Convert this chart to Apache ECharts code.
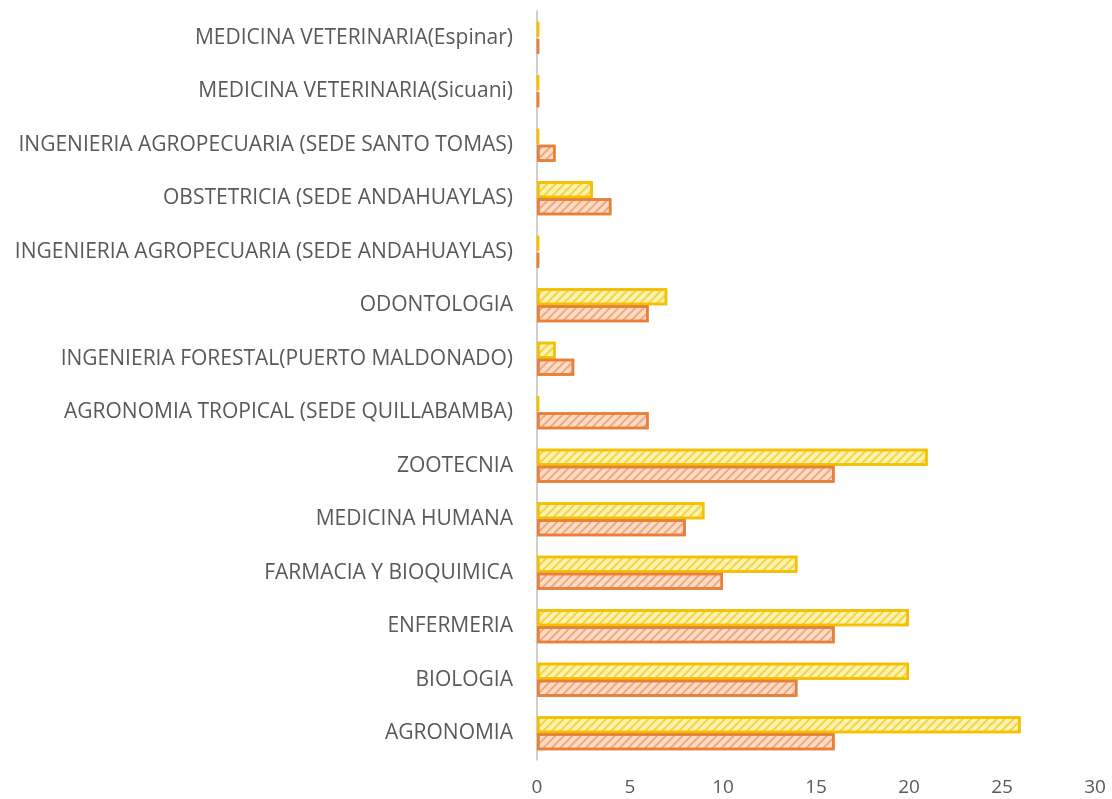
<!DOCTYPE html>
<html>
<head>
<meta charset="utf-8">
<script src="https://cdn.jsdelivr.net/npm/echarts@6/dist/echarts.min.js"></script>
<style>
    html, body { margin: 0; padding: 0; background: #fff; }
    #chart { width: 1112px; height: 799px; }
</style>
</head>
<body>
<div id="chart"></div>
<script>
// categories, bottom to top
var categories = [
    'AGRONOMIA',
    'BIOLOGIA',
    'ENFERMERIA',
    'FARMACIA Y BIOQUIMICA',
    'MEDICINA HUMANA',
    'ZOOTECNIA',
    'AGRONOMIA TROPICAL (SEDE QUILLABAMBA)',
    'INGENIERIA FORESTAL(PUERTO MALDONADO)',
    'ODONTOLOGIA',
    'INGENIERIA AGROPECUARIA (SEDE ANDAHUAYLAS)',
    'OBSTETRICIA (SEDE ANDAHUAYLAS)',
    'INGENIERIA AGROPECUARIA (SEDE SANTO TOMAS)',
    'MEDICINA VETERINARIA(Sicuani)',
    'MEDICINA VETERINARIA(Espinar)'
];
var yellowValues = [26, 20, 20, 14, 9, 21, 0, 1, 7, 0, 3, 0, 0, 0];
var orangeValues = [16, 14, 16, 10, 8, 16, 6, 2, 6, 0, 4, 1, 0, 0];
var xTicks = [0, 5, 10, 15, 20, 25, 30];

var hatch = function (color) {
    return {
        symbol: 'rect',
        symbolSize: 1,
        dashArrayX: [1, 0],
        dashArrayY: [2, 4],
        rotation: -Math.PI / 4,
        color: color
    };
};

var chart = echarts.init(document.getElementById('chart'));
var option = {
    animation: false,
    grid: {
        left: 537,
        right: 17,
        top: 11,
        bottom: 39
    },
    xAxis: {
        type: 'value',
        min: xTicks[0],
        max: xTicks[xTicks.length - 1],
        interval: 5,
        axisLine: { show: false },
        axisTick: { show: false },
        splitLine: { show: false },
        axisLabel: {
            color: '#595959',
            fontSize: 19,
            fontFamily: 'Open Sans',
            margin: 18
        }
    },
    yAxis: {
        type: 'category',
        data: categories,
        axisLine: { show: true, lineStyle: { color: '#bfbfbf', width: 1.5 } },
        axisTick: { show: false },
        axisLabel: {
            color: '#595959',
            fontSize: 21,
            fontFamily: 'Open Sans',
            margin: 24
        }
    },
    series: [{
        name: 'yellow',
        type: 'bar',
        data: yellowValues,
        barGap: '0%',
        barCategoryGap: '36%',
        barMinHeight: 2,
        itemStyle: {
            color: '#fdf3b0',
            borderColor: '#f5c000',
            borderWidth: 2.5,
            decal: hatch('rgba(240,190,0,0.6)')
        }
    }, {
        name: 'orange',
        type: 'bar',
        data: orangeValues,
        barMinHeight: 2,
        itemStyle: {
            color: '#fcdcc8',
            borderColor: '#e8803a',
            borderWidth: 2.5,
            decal: hatch('rgba(232,128,58,0.55)')
        }
    }]
};
chart.setOption(option);
</script>
</body>
</html>
